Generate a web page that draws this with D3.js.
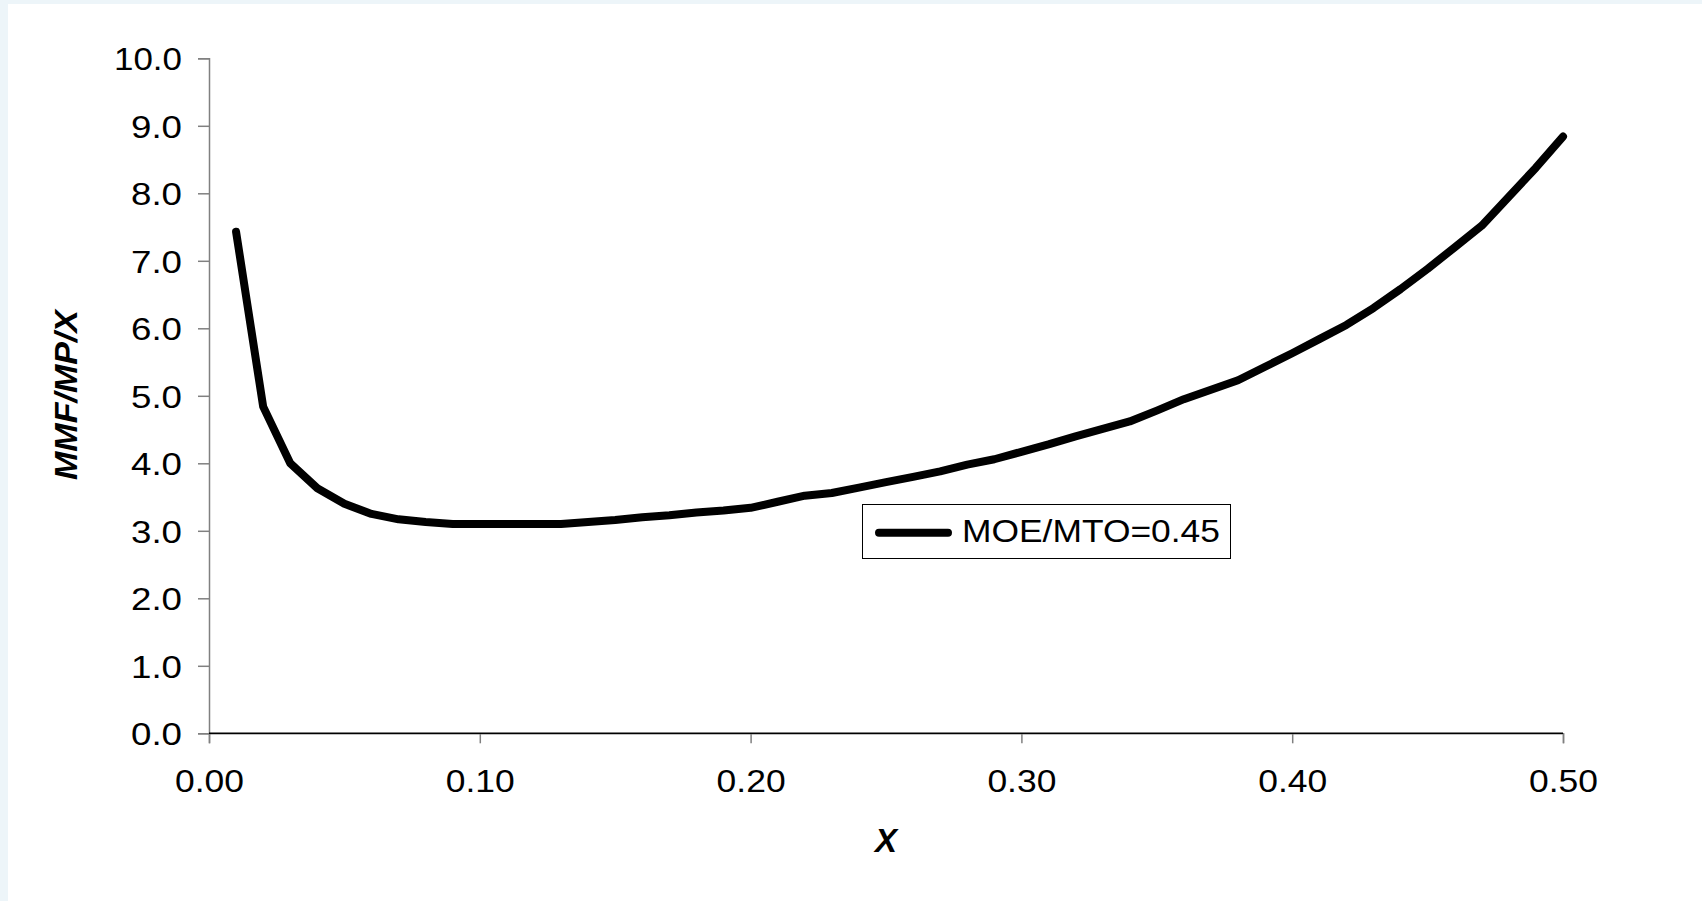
<!DOCTYPE html>
<html>
<head>
<meta charset="utf-8">
<script src="https://cdn.jsdelivr.net/npm/d3@7"></script>
<style>
  html, body { margin: 0; padding: 0; background: #edf5f9; }
  svg { display: block; }
  text { font-family: "Liberation Sans", Arial, sans-serif; fill: #000; }
</style>
</head>
<body>
<svg id="chart" width="1702" height="901"></svg>
<script>
// ---- data ----
const xValues = [0.01,0.02,0.03,0.04,0.05,0.06,0.07,0.08,0.09,0.10,
                 0.11,0.12,0.13,0.14,0.15,0.16,0.17,0.18,0.19,0.20,
                 0.21,0.22,0.23,0.24,0.25,0.26,0.27,0.28,0.29,0.30,
                 0.31,0.32,0.33,0.34,0.35,0.36,0.37,0.38,0.39,0.40,
                 0.41,0.42,0.43,0.44,0.45,0.46,0.47,0.48,0.49,0.50];
const yValues = [7.43,4.84,4.00,3.63,3.40,3.25,3.17,3.13,3.10,3.10,
                 3.10,3.10,3.10,3.13,3.16,3.20,3.23,3.27,3.30,3.34,
                 3.43,3.52,3.56,3.64,3.72,3.80,3.88,3.98,4.06,4.17,
                 4.28,4.40,4.51,4.62,4.78,4.95,5.09,5.23,5.43,5.63,
                 5.84,6.05,6.30,6.58,6.88,7.20,7.52,7.95,8.38,8.84];
const seriesName = "MOE/MTO=0.45";
const xTicks = [0.00,0.10,0.20,0.30,0.40,0.50];
const yTicks = [0,1,2,3,4,5,6,7,8,9,10];
const xTitle = "X";
const yTitle = "MMF/MP/X";

// ---- layout ----
const svg = d3.select("#chart");
svg.append("rect").attr("x", 8).attr("y", 4).attr("width", 1694).attr("height", 897).attr("fill", "#fff");

const x = d3.scaleLinear().domain([0, 0.5]).range([209, 1563]);
const y = d3.scaleLinear().domain([0, 10]).range([733.3, 58.3]);

// Y axis
const yAxis = d3.axisLeft(y).tickValues(yTicks).tickFormat(d3.format(".1f")).tickSize(11).tickPadding(16);
const gy = svg.append("g").attr("transform", "translate(209,0)").call(yAxis);
gy.select(".domain").attr("stroke", "#808080").attr("stroke-width", 1.5);
gy.selectAll(".tick line").attr("stroke", "#808080").attr("stroke-width", 1.5);
gy.selectAll(".tick text").attr("font-size", 32).attr("font-family", "Liberation Sans, Arial, sans-serif")
  .attr("fill", "#000").attr("dy", "0.36em")
  .each(function(d){ const s = d3.format(".1f")(d); d3.select(this).attr("textLength", s.length === 4 ? 68 : 51).attr("lengthAdjust", "spacingAndGlyphs"); });

// X axis
const xAxis = d3.axisBottom(x).tickValues(xTicks).tickFormat(d3.format(".2f")).tickSize(10).tickPadding(0);
const gx = svg.append("g").attr("transform", "translate(0,733.3)").call(xAxis);
gx.select(".domain").attr("stroke", "#808080").attr("stroke-width", 1.5);
gx.selectAll(".tick line").attr("stroke", "#808080").attr("stroke-width", 1.5);
gx.selectAll(".tick text").attr("font-size", 32).attr("font-family", "Liberation Sans, Arial, sans-serif")
  .attr("fill", "#000").attr("y", 58.6).attr("dy", 0)
  .attr("textLength", 69).attr("lengthAdjust", "spacingAndGlyphs");
// black horizontal baseline over the grey domain
svg.append("line").attr("x1", 209).attr("x2", 1563).attr("y1", 733.3).attr("y2", 733.3)
  .attr("stroke", "#000").attr("stroke-width", 1.5);

// Axis titles
svg.append("text").attr("x", 886).attr("y", 851.7).attr("text-anchor", "middle")
  .attr("font-size", 33).attr("font-weight", "bold").attr("font-style", "italic").text(xTitle);
svg.append("text").attr("transform", "translate(77,395) rotate(-90)").attr("text-anchor", "middle")
  .attr("font-size", 32).attr("font-weight", "bold").attr("font-style", "italic")
  .attr("textLength", 170).attr("lengthAdjust", "spacingAndGlyphs").text(yTitle);

// Line
const data = xValues.map((d, i) => [d, yValues[i]]);
svg.append("path").datum(data)
  .attr("fill", "none").attr("stroke", "#000").attr("stroke-width", 8)
  .attr("stroke-linejoin", "round").attr("stroke-linecap", "round")
  .attr("d", d3.line().x(d => x(d[0])).y(d => y(d[1])));

// Legend
const lg = svg.append("g");
lg.append("rect").attr("x", 862.5).attr("y", 504.5).attr("width", 368).attr("height", 54)
  .attr("fill", "#fff").attr("stroke", "#000").attr("stroke-width", 1);
lg.append("line").attr("x1", 879).attr("x2", 948).attr("y1", 532.7).attr("y2", 532.7)
  .attr("stroke", "#000").attr("stroke-width", 8).attr("stroke-linecap", "round");
lg.append("text").attr("x", 962).attr("y", 542).attr("font-size", 31)
  .attr("textLength", 258).attr("lengthAdjust", "spacingAndGlyphs").text(seriesName);
</script>
</body>
</html>
